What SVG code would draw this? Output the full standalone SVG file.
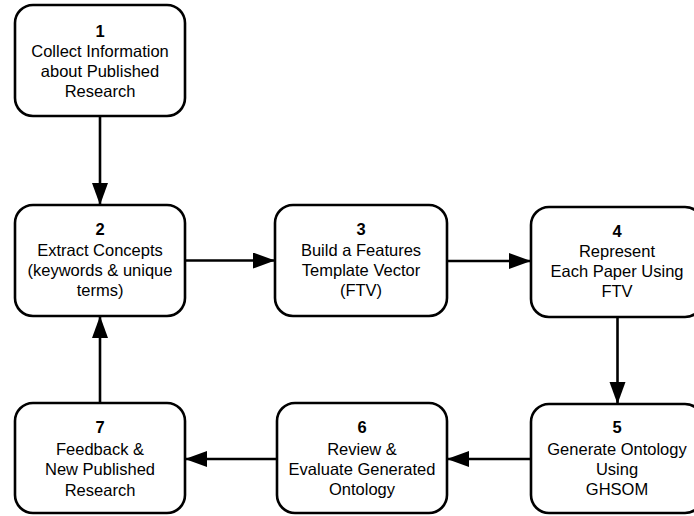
<svg xmlns="http://www.w3.org/2000/svg" width="694" height="516" viewBox="0 0 694 516">
<defs>
<marker id="ah" markerUnits="userSpaceOnUse" markerWidth="24" markerHeight="18" refX="22" refY="8" orient="auto">
<path d="M0,0 L22,8 L0,16 Z" fill="#000"/>
</marker>
<style>
.box{fill:#fff;stroke:#000;stroke-width:2.6}
.t{font-family:"Liberation Sans",Arial,sans-serif;font-size:16.5px;fill:#000;text-anchor:middle}
.n{font-weight:bold}
.c{stroke:#000;stroke-width:2.6;fill:none;marker-end:url(#ah)}
</style>
</defs>
<rect width="694" height="516" fill="#fff"/>
<g id="connectors">
<line class="c" x1="100" y1="116" x2="100" y2="205"/>
<line class="c" x1="185" y1="260.5" x2="275" y2="260.5"/>
<line class="c" x1="447" y1="261" x2="531" y2="261"/>
<line class="c" x1="617.5" y1="317" x2="617.5" y2="404"/>
<line class="c" x1="531" y1="459" x2="447" y2="459"/>
<line class="c" x1="277" y1="459" x2="185" y2="459"/>
<line class="c" x1="100" y1="403" x2="100" y2="316"/>
</g>
<g id="node1">
<rect class="box" x="15" y="5" width="170" height="111" rx="18"/>
<text class="t n" x="100" y="37">1</text>
<text class="t" x="100" y="57">Collect Information</text>
<text class="t" x="100" y="77">about Published</text>
<text class="t" x="100" y="97">Research</text>
</g>
<g id="node2">
<rect class="box" x="15" y="205" width="170" height="111" rx="18"/>
<text class="t n" x="100" y="235">2</text>
<text class="t" x="100" y="256">Extract Concepts</text>
<text class="t" x="100" y="276">(keywords &amp; unique</text>
<text class="t" x="100" y="296">terms)</text>
</g>
<g id="node3">
<rect class="box" x="275" y="205" width="172" height="111" rx="18"/>
<text class="t n" x="361" y="235">3</text>
<text class="t" x="361" y="256">Build a Features</text>
<text class="t" x="361" y="276">Template Vector</text>
<text class="t" x="361" y="296">(FTV)</text>
</g>
<g id="node4">
<rect class="box" x="531" y="207" width="172" height="110" rx="18"/>
<text class="t n" x="617" y="237">4</text>
<text class="t" x="617" y="257">Represent</text>
<text class="t" x="617" y="277">Each Paper Using</text>
<text class="t" x="617" y="297">FTV</text>
</g>
<g id="node5">
<rect class="box" x="531" y="404" width="172" height="109" rx="18"/>
<text class="t n" x="617" y="433">5</text>
<text class="t" x="617" y="455">Generate Ontology</text>
<text class="t" x="617" y="475">Using</text>
<text class="t" x="617" y="495">GHSOM</text>
</g>
<g id="node6">
<rect class="box" x="277" y="403" width="170" height="110" rx="18"/>
<text class="t n" x="362" y="433">6</text>
<text class="t" x="362" y="455">Review &amp;</text>
<text class="t" x="362" y="475">Evaluate Generated</text>
<text class="t" x="362" y="495">Ontology</text>
</g>
<g id="node7">
<rect class="box" x="15" y="403" width="170" height="110" rx="18"/>
<text class="t n" x="100" y="433">7</text>
<text class="t" x="100" y="455">Feedback &amp;</text>
<text class="t" x="100" y="475">New Published</text>
<text class="t" x="100" y="496">Research</text>
</g>
</svg>
